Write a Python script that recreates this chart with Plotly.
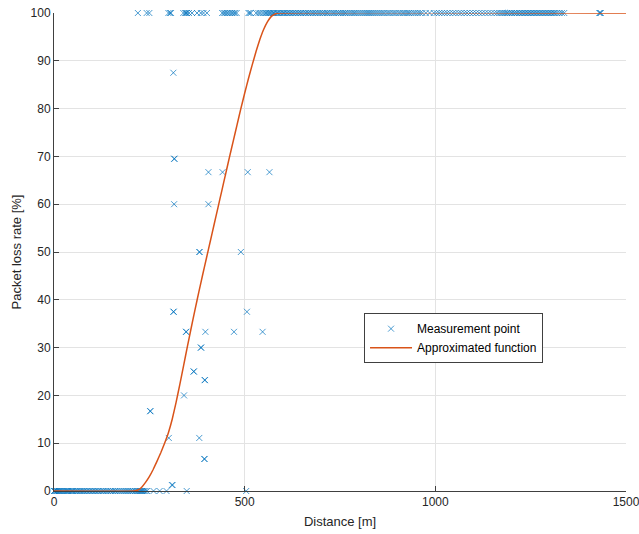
import plotly.graph_objects as go

# ---- Data ----
# Measurement points with 100 % packet loss (distance in m)
dist_loss_100 = [220, 243, 250, 300, 304, 307, 339, 344, 346, 349, 354, 362, 375, 385, 392, 401,
                 441, 445, 449, 453, 457, 462, 467, 471, 475, 479, 510, 513, 516,
                 530, 536, 541, 547, 552, 556, 560, 563, 567, 570, 574, 577, 581, 585, 588, 592,
                 596, 600, 603, 607, 611, 615, 619, 623, 627, 631, 635, 640, 644, 648, 652, 657,
                 661, 666, 670, 675, 679, 684, 688, 693, 697, 702, 706, 711, 716, 720, 725, 730,
                 734, 739, 744, 748, 753, 758, 763, 767, 772, 777, 782, 787, 791, 796, 801, 806,
                 811, 816, 821, 826, 831, 836, 841, 846, 851, 856, 861, 866, 872, 877, 882, 888,
                 893, 898, 904, 909, 915, 920, 926, 931, 937, 943, 948, 954, 960, 966, 975, 985,
                 996, 1003, 1010, 1017, 1024, 1031, 1038, 1046, 1053, 1061, 1068, 1076, 1083,
                 1091, 1099, 1107, 1115, 1123, 1131, 1139, 1147, 1155, 1162, 1168, 1173, 1178,
                 1183, 1188, 1192, 1197, 1201, 1206, 1210, 1214, 1219, 1223, 1227, 1231, 1235,
                 1239, 1243, 1247, 1251, 1255, 1259, 1263, 1267, 1271, 1275, 1279, 1283, 1287,
                 1291, 1295, 1299, 1303, 1307, 1311, 1315, 1320, 1326, 1332, 1338,
                 1430, 1432, 1434]

# Measurement points with 0 % packet loss (distance in m)
dist_loss_0 = [0, 1, 3, 5, 8, 10, 13, 16, 19, 22, 25, 28, 31, 34, 37, 40, 44, 47, 50, 54, 57,
               61, 64, 68, 72, 75, 79, 83, 87, 91, 95, 99, 103, 107, 111, 115, 119, 124, 128,
               132, 137, 141, 146, 150, 155, 160, 164, 169, 174, 179, 184, 189, 194, 199, 204,
               208, 212, 216, 219, 222, 225, 228, 231, 234, 237, 240, 244,
               261, 277, 295, 348, 504]

# Measurement points with partial packet loss
dist_partial = [313, 315, 316, 405, 442, 508, 565, 315, 405, 381, 382, 490, 313, 314, 506,
                346, 347, 397, 472, 547, 385, 386, 366, 367, 395, 396, 341, 252, 253,
                301, 381, 394, 395, 309, 311]
loss_partial = [87.5, 69.5, 69.5, 66.7, 66.7, 66.7, 66.7, 60, 60, 50, 50, 50, 37.5, 37.5, 37.5,
                33.3, 33.3, 33.3, 33.3, 33.3, 30, 30, 25, 25, 23.2, 23.2, 20, 16.7, 16.7,
                11.1, 11.1, 6.7, 6.7, 1.25, 1.25]

# Approximated function
curve_dist = [0, 210, 220, 230, 240, 250, 260, 270, 280, 290, 300, 310, 320, 330, 340, 350,
              360, 370, 380, 390, 400, 410, 420, 430, 440, 450, 460, 470, 480, 490, 500,
              510, 520, 530, 540, 550, 560, 570, 580, 590, 1500]
curve_loss = [0, 0, 0.2, 0.8, 1.8, 3.0, 4.5, 6.2, 8.0, 10.0, 12.2, 15.0, 18.5, 22.3, 26.3, 30.3,
              34.2, 38.0, 41.7, 45.3, 48.8, 52.3, 55.8, 59.3, 62.8, 66.3, 69.8, 73.2, 76.6, 80.0, 83.2,
              86.3, 89.2, 92.0, 94.5, 96.6, 98.2, 99.3, 99.8, 100, 100]

x_ticks = [0, 500, 1000, 1500]
y_ticks = [0, 10, 20, 30, 40, 50, 60, 70, 80, 90, 100]

# ---- Build ----
meas_x = dist_loss_0 + dist_partial + dist_loss_100
meas_y = [0] * len(dist_loss_0) + loss_partial + [100] * len(dist_loss_100)

FONT = "Liberation Sans, Arial, Helvetica, sans-serif"
fig = go.Figure()
fig.add_trace(go.Scatter(
    x=meas_x, y=meas_y, mode="markers", name="Measurement point",
    marker=dict(symbol="x-thin", size=6, color="rgba(0,114,189,0.7)",
                line=dict(width=1, color="rgba(0,114,189,0.7)")),
    cliponaxis=False,
))
fig.add_trace(go.Scatter(
    x=curve_dist, y=curve_loss, mode="lines", name="Approximated function",
    line=dict(color="#D95319", width=1.5, shape="spline", smoothing=0.3),
    cliponaxis=False,
))

axis_common = dict(
    showgrid=True, gridcolor="#e3e3e3", gridwidth=1,
    showline=True, linecolor="#404040", linewidth=1,
    ticks="inside", ticklen=5, tickcolor="#404040",
    zeroline=False, mirror=False, automargin=False,
    ticklabeloverflow="allow",
    tickfont=dict(family=FONT, size=12, color="#262626"),
)
fig.update_xaxes(range=[0, 1500], tickvals=x_ticks,
                 title=dict(text="Distance [m]", font=dict(family=FONT, size=13, color="#262626"),
                            standoff=8),
                 **axis_common)
fig.update_yaxes(range=[0, 100], tickvals=y_ticks,
                 title=dict(text="Packet loss rate [%]", font=dict(family=FONT, size=13, color="#262626"),
                            standoff=6),
                 **axis_common)

fig.update_layout(
    width=639, height=534,
    margin=dict(l=54, r=13, t=13, b=43),
    plot_bgcolor="white", paper_bgcolor="white",
    font=dict(family=FONT, size=12, color="#262626"),
    legend=dict(x=0.542, y=0.372, xanchor="left", yanchor="top",
                bgcolor="white", bordercolor="#404040", borderwidth=1,
                font=dict(family=FONT, size=12, color="#000000"),
                itemwidth=42, tracegroupgap=0),
    showlegend=True,
)

fig.write_html("out.html")
